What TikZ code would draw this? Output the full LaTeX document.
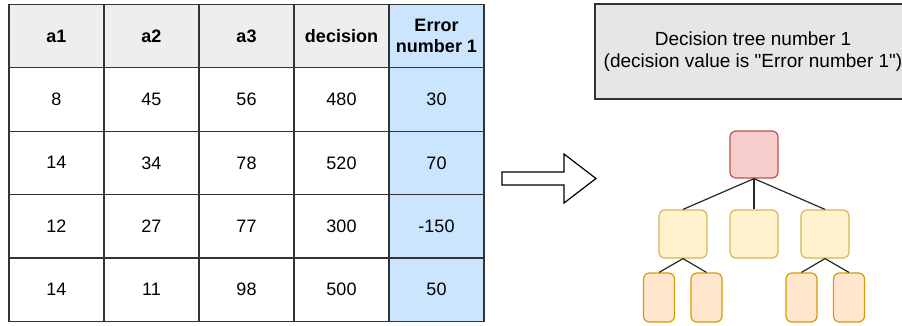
\documentclass[tikz,border=0pt]{standalone}
\usepackage{fontspec}
\setmainfont{Liberation Sans}[Ligatures=TeXOff]
\definecolor{headgray}{HTML}{EEEEEE}
\definecolor{titlegray}{HTML}{E6E6E6}
\definecolor{errblue}{HTML}{CCE5FF}
\definecolor{rootfill}{HTML}{F8CECC}
\definecolor{rootdraw}{HTML}{B85450}
\definecolor{midfill}{HTML}{FFF2CC}
\definecolor{middraw}{HTML}{D6B656}
\definecolor{leaffill}{HTML}{FFE6CC}
\definecolor{leafdraw}{HTML}{D79B00}
\begin{document}
\begin{tikzpicture}[x=1pt,y=-1pt,
  cell/.style={draw=black!80,line width=1.2pt,minimum width=95pt,minimum height=63.4pt,inner sep=0pt,anchor=center,font=\fontsize{18}{21}\selectfont,align=center},
  headcell/.style={cell,fill=headgray,font=\fontsize{18}{21}\selectfont\bfseries},
  errcell/.style={cell,fill=errblue},
  errhead/.style={errcell,font=\fontsize{18}{21}\selectfont\bfseries},
  tnode/.style={draw,rounded corners=6pt,line width=1.2pt,inner sep=0pt},
  rootbox/.style={tnode,fill=rootfill,draw=rootdraw,minimum width=48pt,minimum height=47pt},
  midbox/.style={tnode,fill=midfill,draw=middraw,minimum width=48pt,minimum height=48pt},
  leafbox/.style={tnode,fill=leaffill,draw=leafdraw,minimum width=31pt,minimum height=49pt},
  edge/.style={draw=black!85,line width=1.2pt}
]
\useasboundingbox (0,0) rectangle (902,325);
\clip (0,0) rectangle (902,325);
% header
\node[headcell] (h1) at (56.5,36) {a1};
\node[headcell] (h2) at (151.5,36) {a2};
\node[headcell] (h3) at (246.5,36) {a3};
\node[headcell] (h4) at (341.5,36) {decision};
\node[errhead] (h5) at (436.5,36) {Error\\number 1};
% rows
\node[cell] (r1c1) at (56.5,99.5) {8};
\node[cell] (r1c2) at (151.5,99.5) {45};
\node[cell] (r1c3) at (246.5,99.5) {56};
\node[cell] (r1c4) at (341.5,99.5) {480};
\node[errcell] (r1c5) at (436.5,99.5) {30};
\node[cell] (r2c1) at (56.5,162.8) {14};
\node[cell] (r2c2) at (151.5,162.8) {34};
\node[cell] (r2c3) at (246.5,162.8) {78};
\node[cell] (r2c4) at (341.5,162.8) {520};
\node[errcell] (r2c5) at (436.5,162.8) {70};
\node[cell] (r3c1) at (56.5,226.2) {12};
\node[cell] (r3c2) at (151.5,226.2) {27};
\node[cell] (r3c3) at (246.5,226.2) {77};
\node[cell] (r3c4) at (341.5,226.2) {300};
\node[errcell] (r3c5) at (436.5,226.2) {-150};
\node[cell] (r4c1) at (56.5,289.6) {14};
\node[cell] (r4c2) at (151.5,289.6) {11};
\node[cell] (r4c3) at (246.5,289.6) {98};
\node[cell] (r4c4) at (341.5,289.6) {500};
\node[errcell] (r4c5) at (436.5,289.6) {50};
% arrow
\draw[line width=1.2pt,fill=white] (502,172) -- (564,172) -- (564,154) -- (596,178.5) -- (564,203) -- (564,185) -- (502,185) -- cycle;
% title box
\node[draw=black!80,line width=1.2pt,fill=titlegray,minimum width=316pt,minimum height=95pt,inner sep=0pt,align=center,font=\fontsize{19}{22.5}\selectfont] (title) at (753,51.5) {Decision tree number 1\\(decision value is "Error number 1")};
% tree
\node[rootbox] (root) at (754,154.5) {};
\node[midbox] (m1) at (683,234) {};
\node[midbox] (m2) at (754,234) {};
\node[midbox] (m3) at (825,234) {};
\node[leafbox] (l1) at (659,297.5) {};
\node[leafbox] (l2) at (706.5,297.5) {};
\node[leafbox] (l3) at (801.5,297.5) {};
\node[leafbox] (l4) at (849,297.5) {};
\draw[edge] (root.south) -- (m1.north);
\draw[edge] (root.south) -- (m2.north);
\draw[edge] (root.south) -- (m3.north);
\draw[edge] (m1.south) -- (l1.north);
\draw[edge] (m1.south) -- (l2.north);
\draw[edge] (m3.south) -- (l3.north);
\draw[edge] (m3.south) -- (l4.north);
\end{tikzpicture}
\end{document}
